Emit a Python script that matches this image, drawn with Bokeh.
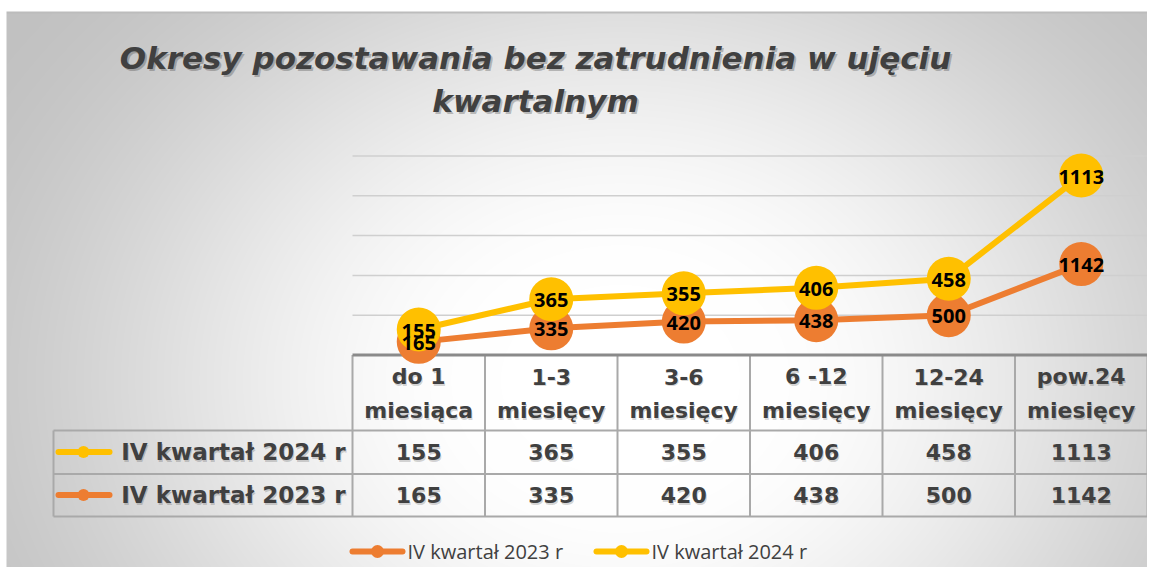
import numpy as np
from bokeh.plotting import figure
from bokeh.models import Range1d
from bokeh.core.properties import value
from bokeh.embed import file_html
from bokeh.resources import INLINE

# ---------------- data ----------------
title_lines = ["Okresy pozostawania bez zatrudnienia w ujęciu", "kwartalnym"]
cat_line1 = ["do 1", "1-3", "3-6", "6 -12", "12-24", "pow.24"]
cat_line2 = ["miesiąca", "miesięcy", "miesięcy", "miesięcy", "miesięcy", "miesięcy"]
series_2023_name = "IV kwartał 2023 r"
series_2024_name = "IV kwartał 2024 r"
values_2023 = [165, 335, 420, 438, 500, 1142]
values_2024 = [155, 365, 355, 406, 458, 1113]
grid_values = [500, 1000, 1500, 2000, 2500]

ORANGE = "#ED7D31"
YELLOW = "#FFC000"
DARK = "#404040"

# ---------------- layout (reference pixel geometry) ----------------
FIG_W, FIG_H, OFF = 1147, 567, 0
PX0, DX = 418.25, 132.5          # centre of first category, category pitch
Y0, PPU = 354.5, 39.8 / 500.0    # pixel of value 0, pixels per unit


def X(px):
    return (px - PX0) / DX


def Y(py):
    return (Y0 - py) / PPU


p = figure(width=FIG_W, height=FIG_H, output_backend="svg", toolbar_location=None,
           x_axis_type=None, y_axis_type=None,
           x_range=Range1d(X(OFF), X(OFF + FIG_W)),
           y_range=Range1d(Y(OFF + FIG_H), Y(OFF)),
           min_border=0, outline_line_color=None,
           background_fill_color="white", border_fill_color="white")

# ---------------- background radial gradient ----------------
xs = np.arange(FIG_W) + OFF + 0.5
ys = np.arange(FIG_H) + OFF + 0.5
XX, YY = np.meshgrid(xs, ys)
r = np.sqrt(((XX - 620) / 600.0) ** 2 + ((YY - 380) / 480.0) ** 2)
t = np.clip((r - 0.2) / 1.1, 0, 1)
s = t * t * (3 - 2 * t)
g = 255 - 62 * s
g[YY < 11] = 255
g[(YY >= 11) & (YY < 13)] = 188
g[XX < 6] = 255
rgba = np.zeros((FIG_H, FIG_W, 4), dtype=np.uint8)
rgba[..., 0] = g
rgba[..., 1] = g
rgba[..., 2] = g
rgba[..., 3] = 255
img = np.ascontiguousarray(rgba[::-1]).view(np.uint32).reshape(FIG_H, FIG_W)
p.image_rgba(image=[img], x=X(OFF), y=Y(OFF + FIG_H),
             dw=X(OFF + FIG_W) - X(OFF), dh=Y(OFF) - Y(OFF + FIG_H))

# ---------------- title ----------------
tx = [X(535), X(535)]
ty = [Y(57), Y(100)]
p.text(x=tx, y=ty, text=title_lines, x_offset=2, y_offset=2,
       text_font=value("DejaVu Sans"), text_font_size="31px", text_font_style="bold italic",
       text_color="black", text_alpha=0.22, text_align="center", text_baseline="middle")
p.text(x=tx, y=ty, text=title_lines,
       text_font=value("DejaVu Sans"), text_font_size="31px", text_font_style="bold italic",
       text_color=DARK, text_align="center", text_baseline="middle")

n = len(cat_line1)
idx = np.arange(n)
left_edge = -0.5
right_edge = n - 0.5

# ---------------- gridlines ----------------
p.segment(x0=[left_edge] * len(grid_values), y0=grid_values,
          x1=[right_edge] * len(grid_values), y1=grid_values,
          line_color="#cfcfcf", line_width=1.5)

# ---------------- data table ----------------
row1_top, row2_top, row_bottom = Y(430), Y(473.5), Y(516)
label_left = X(53)
tbl_col = "#a9a9a9"
bounds = np.arange(n + 1) - 0.5
p.segment(x0=bounds, y0=[0] * (n + 1), x1=bounds, y1=[row_bottom] * (n + 1),
          line_color=tbl_col, line_width=2)
p.segment(x0=[label_left] * 3, y0=[row1_top, row2_top, row_bottom],
          x1=[right_edge] * 3, y1=[row1_top, row2_top, row_bottom],
          line_color=tbl_col, line_width=2)
p.segment(x0=[label_left], y0=[row1_top], x1=[label_left], y1=[row_bottom],
          line_color=tbl_col, line_width=2)
# category axis line
p.segment(x0=[left_edge], y0=[0], x1=[right_edge], y1=[0], line_color="#8a8a8a", line_width=3)

# header texts
for lines, py in ((cat_line1, 376), (cat_line2, 410)):
    p.text(x=idx, y=[Y(py)] * n, text=lines, x_offset=1, y_offset=1.5,
           text_font=value("DejaVu Sans"), text_font_size="22px", text_font_style="bold",
           text_color="black", text_alpha=0.18, text_align="center", text_baseline="middle")
    p.text(x=idx, y=[Y(py)] * n, text=lines,
           text_font=value("DejaVu Sans"), text_font_size="22px", text_font_style="bold",
           text_color=DARK, text_align="center", text_baseline="middle")

row_y = [Y(451.5), Y(494.5)]
for vals, ry in ((values_2024, row_y[0]), (values_2023, row_y[1])):
    p.text(x=idx, y=[ry] * n, text=[str(v) for v in vals], x_offset=1, y_offset=1.5,
           text_font=value("DejaVu Sans"), text_font_size="22px", text_font_style="bold",
           text_color="black", text_alpha=0.18, text_align="center", text_baseline="middle")
    p.text(x=idx, y=[ry] * n, text=[str(v) for v in vals],
           text_font=value("DejaVu Sans"), text_font_size="22px", text_font_style="bold",
           text_color=DARK, text_align="center", text_baseline="middle")

# row labels with keys
p.text(x=[X(345)] * 2, y=row_y, text=[series_2024_name, series_2023_name], x_offset=1, y_offset=1.5,
       text_font=value("DejaVu Sans"), text_font_size="23px", text_font_style="bold",
       text_color="black", text_alpha=0.18, text_align="right", text_baseline="middle")
p.text(x=[X(345)] * 2, y=row_y, text=[series_2024_name, series_2023_name],
       text_font=value("DejaVu Sans"), text_font_size="23px", text_font_style="bold",
       text_color=DARK, text_align="right", text_baseline="middle")
p.segment(x0=[X(58)] * 2, y0=row_y, x1=[X(109)] * 2, y1=row_y,
          line_color=[YELLOW, ORANGE], line_width=6, line_cap="round")
p.scatter(x=[X(83)] * 2, y=row_y, size=12, fill_color=[YELLOW, ORANGE], line_color=None)

# ---------------- stacked lines ----------------
stack_2023 = np.array(values_2023)
stack_2024 = stack_2023 + np.array(values_2024)

p.line(idx, stack_2023, line_color=ORANGE, line_width=6, line_join="round")
p.scatter(idx, stack_2023, size=44, fill_color=ORANGE, line_color=None)
p.line(idx, stack_2024, line_color=YELLOW, line_width=6, line_join="round")
p.scatter(idx, stack_2024, size=44, fill_color=YELLOW, line_color=None)

p.text(x=idx, y=stack_2023, text=[str(v) for v in values_2023], y_offset=1,
       text_font=value("Open Sans"), text_font_size="20px", text_font_style="bold",
       text_color="black", text_align="center", text_baseline="middle")
p.text(x=idx, y=stack_2024, text=[str(v) for v in values_2024], y_offset=1,
       text_font=value("Open Sans"), text_font_size="20px", text_font_style="bold",
       text_color="black", text_align="center", text_baseline="middle")

# ---------------- bottom legend ----------------
ly = Y(551)
p.segment(x0=[X(352), X(596)], y0=[ly, ly], x1=[X(402), X(646)], y1=[ly, ly],
          line_color=[ORANGE, YELLOW], line_width=6, line_cap="round")
p.scatter(x=[X(377), X(621)], y=[ly, ly], size=13, fill_color=[ORANGE, YELLOW], line_color=None)
p.text(x=[X(407), X(651)], y=[ly, ly], text=[series_2023_name, series_2024_name],
       text_font=value("Open Sans"), text_font_size="20px",
       text_color=DARK, text_align="left", text_baseline="middle")

open("out.html", "w").write(file_html(p, INLINE))
